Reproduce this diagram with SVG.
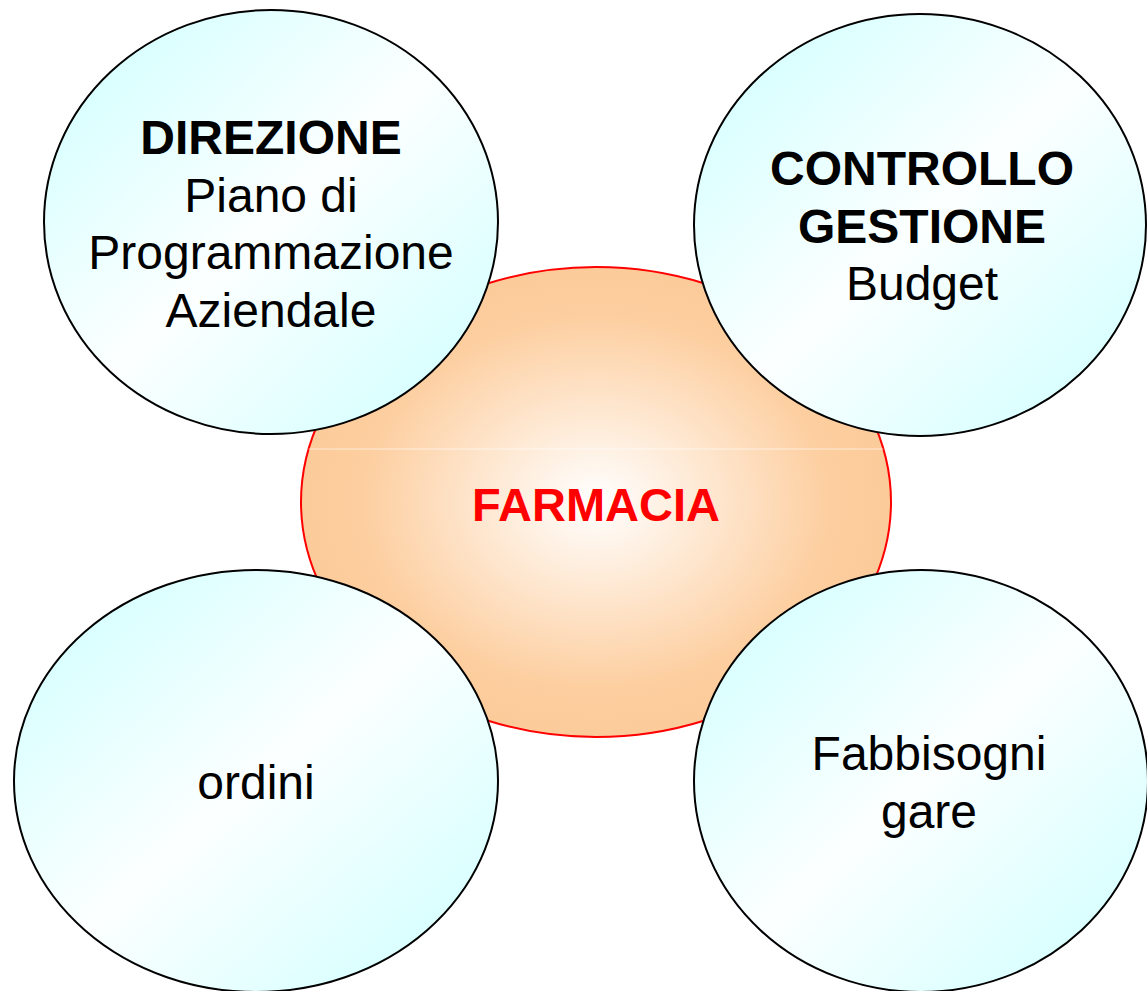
<svg xmlns="http://www.w3.org/2000/svg" width="1147" height="991" viewBox="0 0 1147 991">
<defs>
<radialGradient id="gOrange" cx="0.5" cy="0.5" r="0.5">
<stop offset="0" stop-color="#FFFFFF"/>
<stop offset="0.8" stop-color="#FDCE9F"/>
<stop offset="1" stop-color="#FCCB9A"/>
</radialGradient>
<linearGradient id="gCyan" x1="0" y1="0" x2="1" y2="1">
<stop offset="0" stop-color="#CCFFFF"/>
<stop offset="0.5" stop-color="#FCFFFF"/>
<stop offset="1" stop-color="#CCFFFF"/>
</linearGradient>
<clipPath id="cCenter"><ellipse cx="596" cy="502" rx="295" ry="235"/></clipPath>
</defs>
<style>
.bubble{fill:url(#gCyan);stroke:#000;stroke-width:2}
.t{font-family:"Liberation Sans",Arial,sans-serif;font-size:48px;fill:#000;text-anchor:middle}
.b{font-weight:bold}
</style>
<g id="farmacia">
<ellipse cx="596" cy="502" rx="295" ry="235" fill="url(#gOrange)" stroke="#FF0000" stroke-width="2"/>
<line x1="300" y1="449" x2="892" y2="449" stroke="#FFFFFF" stroke-opacity="0.6" stroke-width="1" clip-path="url(#cCenter)"/>
<text class="t b" x="596" y="521" fill="#FF0000" style="fill:#FF0000;font-size:47px">FARMACIA</text>
</g>
<g id="direzione">
<ellipse class="bubble" cx="271" cy="222" rx="227" ry="212"/>
<text class="t b" x="271" y="154">DIREZIONE</text>
<text class="t" x="271" y="212">Piano di</text>
<text class="t" x="271" y="269">Programmazione</text>
<text class="t" x="271" y="327">Aziendale</text>
</g>
<g id="controllo">
<ellipse class="bubble" cx="920" cy="225" rx="226" ry="211"/>
<text class="t b" x="922" y="185">CONTROLLO</text>
<text class="t b" x="922" y="243">GESTIONE</text>
<text class="t" x="922" y="300">Budget</text>
</g>
<g id="ordini">
<ellipse class="bubble" cx="256" cy="781" rx="242" ry="211"/>
<text class="t" x="256" y="799">ordini</text>
</g>
<g id="fabbisogni">
<ellipse class="bubble" cx="921" cy="781" rx="227" ry="211"/>
<text class="t" x="929" y="770">Fabbisogni</text>
<text class="t" x="929" y="828">gare</text>
</g>
<g id="connectors"/>
</svg>
